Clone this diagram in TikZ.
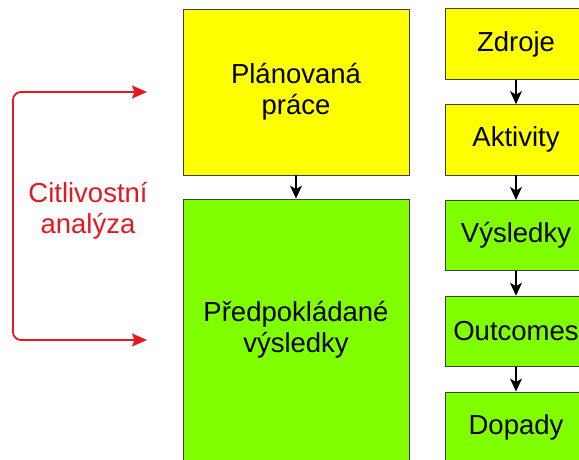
\documentclass[tikz,border=0pt]{standalone}
\usepackage{fontspec}
\setmainfont{Liberation Sans}
\usetikzlibrary{positioning,arrows.meta}

\definecolor{planyellow}{RGB}{255,255,0}
\definecolor{resultgreen}{RGB}{128,255,0}
\definecolor{analysisred}{RGB}{228,24,30}

\tikzset{
	box/.style={draw=black!75, line width=0.8pt, minimum width=142pt, minimum height=70.5pt, inner sep=0pt, align=center, font=\fontsize{27.5}{31}\selectfont},
	bigbox/.style={box, minimum width=226pt},
	flow/.style={-{Stealth[length=13pt,width=12pt,inset=3.5pt]}, line width=1.5pt},
	sensarrow/.style={{Stealth[length=15pt,width=13pt,inset=2.5pt]}-{Stealth[length=15pt,width=13pt,inset=2.5pt]}, analysisred, line width=1.8pt, rounded corners=8pt}
}

\begin{document}
\begin{tikzpicture}[x=1pt, y=-1pt, node distance=24.5pt]
			\useasboundingbox (0,0) rectangle (579,459);
			\clip (0,0) rectangle (579,459);
			\node[bigbox, fill=planyellow, minimum height=166pt] (plan) at (296,92) {Plánovaná\\práce};
			\node[bigbox, fill=resultgreen, minimum height=262pt] (predpoklad) at (296,330) {Předpokládané\\výsledky};
			\node[box, fill=planyellow] (zdroje) at (516,44) {Zdroje};
			\node[box, fill=planyellow, below=of zdroje] (aktivity) {Aktivity};
			\node[box, fill=resultgreen, below=of aktivity] (vysledky) {Výsledky};
			\node[box, fill=resultgreen, below=of vysledky] (outcomes) {Outcomes};
			\node[box, fill=resultgreen, below=of outcomes] (dopady) {Dopady};
			\draw[flow] (plan) -- (predpoklad);
			\draw[flow] (zdroje) -- (aktivity);
			\draw[flow] (aktivity) -- (vysledky);
			\draw[flow] (vysledky) -- (outcomes);
			\draw[flow] (outcomes) -- (dopady);
			\node[align=center, text=analysisred, font=\fontsize{27.5}{31}\selectfont] (citlivost) at (88,210.5) {Citlivostní\\analýza};
			\coordinate (plantip) at (147,92);
			\coordinate (predtip) at (147,340);
			\draw[sensarrow] (plantip) -| (13,216) |- (predtip);
\end{tikzpicture}
\end{document}
